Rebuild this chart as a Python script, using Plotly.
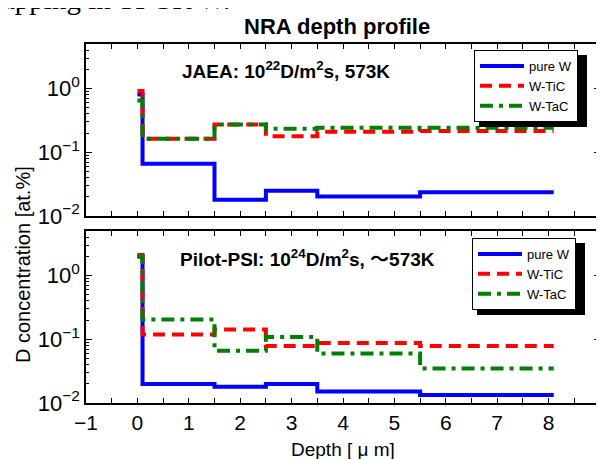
import plotly.graph_objects as go

# ---------------- data ----------------
depth_edges = [0, 0.1, 1.5, 2.5, 3.5, 5.5, 8.1]

jaea_pure_w = [0.81, 0.066, 0.018, 0.025, 0.0202, 0.0237, 0.0237]
jaea_w_tic = [0.92, 0.163, 0.273, 0.179, 0.21, 0.215, 0.215]
jaea_w_tac = [0.65, 0.163, 0.273, 0.234, 0.243, 0.243, 0.243]

pilot_pure_w = [2.0, 0.0199, 0.018, 0.0199, 0.0151, 0.0133, 0.0133]
pilot_w_tic = [2.1, 0.119, 0.142, 0.0786, 0.0875, 0.0786, 0.0786]
pilot_w_tac = [2.0, 0.205, 0.066, 0.109, 0.0597, 0.0348, 0.0348]

series_names = ["pure W", "W-TiC", "W-TaC"]
y_tickvals = [0.01, 0.1, 1]
y_ticktext = ["10<sup>\u22122</sup>", "10<sup>\u22121</sup>", "10<sup>0</sup>"]

# ---------------- layout geometry (page pixels; body has an 8px margin) ----------------
BODY = 8
W, H = 604 - BODY, 459 - BODY
ML, MR, MT, MB = 86 - BODY, 4, 44 - BODY, 56
PW, PH = W - ML - MR, H - MT - MB


def px_x(x):  # page x -> paper
    return (x - 86) / PW


def px_y(y):  # page y -> paper
    return (403 - y) / PH


top_dom = [px_y(216), 1.0]
bot_dom = [0.0, px_y(231)]

colors = ["#0000ff", "#ff0000", "#008000"]
dashes = ["solid", "12px,7px", "13px,6px,4px,6px"]

fig = go.Figure()

for i, (vals, name) in enumerate(zip([jaea_pure_w, jaea_w_tic, jaea_w_tac], series_names)):
    fig.add_trace(go.Scatter(
        x=depth_edges, y=vals, mode="lines", name=name, line_shape="hv",
        line=dict(color=colors[i], width=4, dash=dashes[i]),
        xaxis="x2", yaxis="y2", legend="legend"))

for i, (vals, name) in enumerate(zip([pilot_pure_w, pilot_w_tic, pilot_w_tac], series_names)):
    fig.add_trace(go.Scatter(
        x=depth_edges, y=vals, mode="lines", name=name, line_shape="hv",
        line=dict(color=colors[i], width=4, dash=dashes[i]),
        xaxis="x", yaxis="y", legend="legend2"))

minor_y = [m * 10 ** e for e in (-2, -1, 0) for m in range(2, 10)]

common_x = dict(range=[-1, 9], tickmode="linear", tick0=0, dtick=1,
                ticks="inside", ticklen=5, tickcolor="black",
                minor=dict(ticks="inside", ticklen=5, dtick=0.5, tick0=0, tickcolor="black"),
                showline=True, linecolor="black", linewidth=1.5, mirror="allticks",
                showgrid=False, zeroline=False, automargin=False,
                tickfont=dict(size=21, color="black", family="Liberation Sans"))
common_y = dict(type="log", range=[-2, 0.7], tickmode="array", tickvals=y_tickvals,
                ticktext=y_ticktext, ticks="inside", ticklen=6, tickcolor="black",
                minor=dict(ticks="inside", ticklen=3, tickvals=minor_y, tickcolor="black"),
                showline=True, linecolor="black", linewidth=1.5, mirror="allticks",
                showgrid=False, zeroline=False, automargin=False,
                tickfont=dict(size=22, color="black", family="Liberation Sans"))

legend_style = dict(xanchor="left", yanchor="top",
                    bgcolor="white", bordercolor="black", borderwidth=1,
                    font=dict(size=13, color="black", family="Liberation Sans"),
                    itemwidth=44, tracegroupgap=0)

# legend top-left corners (page px) and approximate rendered box size
LEG_POS = [(474, 50), (472, 238)]
LEG_W, LEG_H, SHADOW = 108, 72, 5

fig.update_layout(
    width=W, height=H,
    margin=dict(l=ML, r=MR, t=MT, b=MB),
    paper_bgcolor="white", plot_bgcolor="white",
    xaxis=dict(anchor="y", domain=[0, 1], **common_x),
    yaxis=dict(anchor="x", domain=bot_dom, **common_y),
    xaxis2=dict(anchor="y2", domain=[0, 1], matches="x", showticklabels=False,
                **{k: v for k, v in common_x.items() if k != "tickfont"}),
    yaxis2=dict(anchor="x2", domain=top_dom, **common_y),
    legend=dict(x=px_x(LEG_POS[0][0]), y=px_y(LEG_POS[0][1]), **legend_style),
    legend2=dict(x=px_x(LEG_POS[1][0]), y=px_y(LEG_POS[1][1]), **legend_style),
    showlegend=True,
)

# legend drop shadows
for (lx, ly) in LEG_POS:
    fig.add_shape(type="rect", xref="paper", yref="paper",
                  x0=px_x(lx + SHADOW), x1=px_x(lx + LEG_W + SHADOW),
                  y0=px_y(ly + LEG_H + SHADOW), y1=px_y(ly + SHADOW),
                  fillcolor="black", line=dict(width=0), layer="above")

ann_font = dict(family="Liberation Sans, Noto Sans CJK JP", color="black")


def label(x, y, text, size, **kw):
    fig.add_annotation(xref="paper", yref="paper", x=px_x(x), y=px_y(y),
                       xanchor=kw.pop("xanchor", "center"), yanchor=kw.pop("yanchor", "middle"),
                       text=text, showarrow=False, font=dict(size=size, **ann_font), **kw)


label(337, 26, "<b>NRA depth profile</b>", 22)
label(286, 70, "<b>JAEA: 10<sup>22</sup>D/m<sup>2</sup>s, 573K</b>", 19)
label(307, 258, "<b>Pilot-PSI: 10<sup>24</sup>D/m<sup>2</sup>s, \uff5e573K</b>", 19)
label(23, 265, "D concentration [at.%]", 20, textangle=-90)
label(343, 449, "Depth [ \u03bc m]", 19)
fig.add_annotation(xref="paper", yref="paper", x=px_x(0), y=px_y(17),
                   xanchor="left", yanchor="bottom",
                   text="apping in TPGR W.", showarrow=False,
                   font=dict(size=29, family="Liberation Serif", color="black"))

fig.write_html("out.html")
